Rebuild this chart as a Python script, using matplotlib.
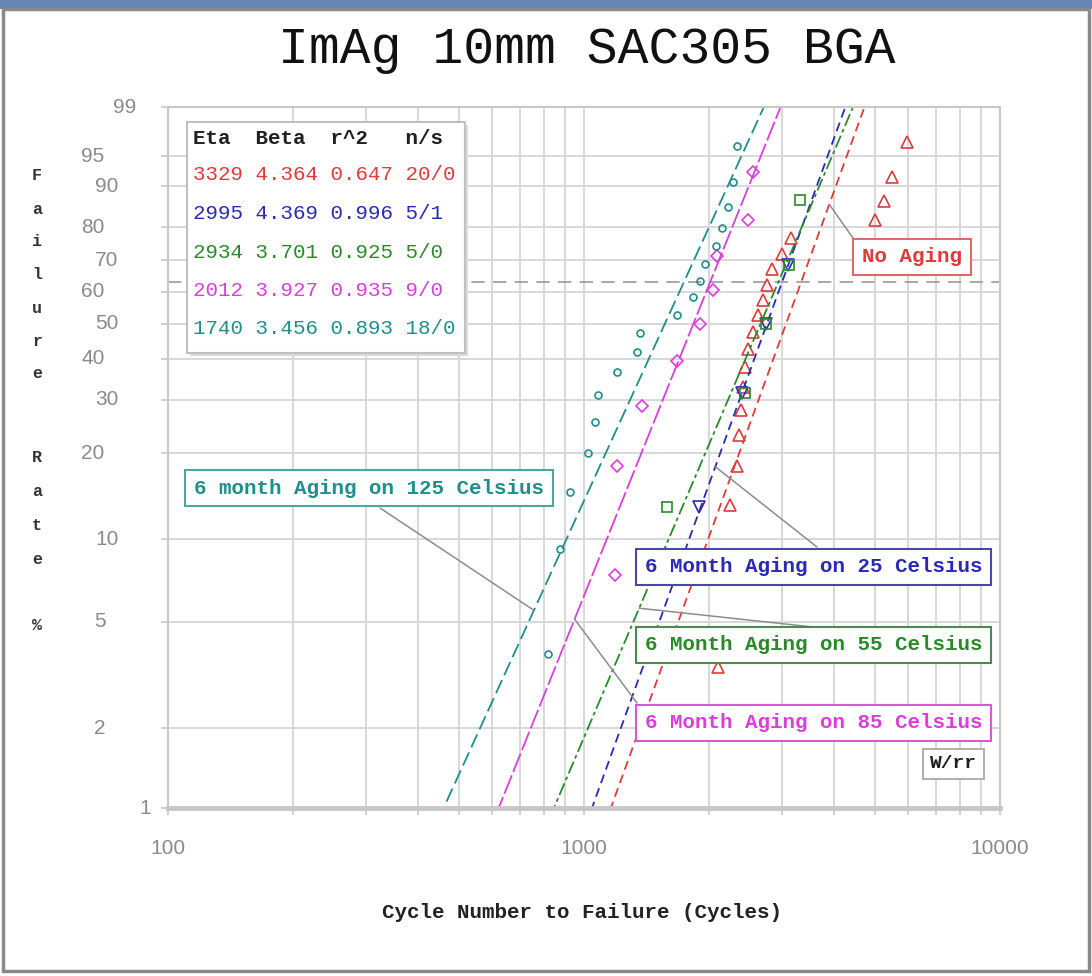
import numpy as np
import matplotlib
matplotlib.use("Agg")
import matplotlib.pyplot as plt
from matplotlib.patches import Rectangle
from matplotlib.ticker import FixedLocator, NullFormatter, NullLocator

plt.rcParams['font.family'] = ['Liberation Mono', 'DejaVu Sans Mono']

W, H = 1092, 976

# Weibull fit results per aging condition
labels = ['No Aging', '6 Month Aging on 25 Celsius', '6 Month Aging on 55 Celsius',
          '6 Month Aging on 85 Celsius', '6 month Aging on 125 Celsius']
eta = [3329, 2995, 2934, 2012, 1740]
beta = [4.364, 4.369, 3.701, 3.927, 3.456]
r2 = [0.647, 0.996, 0.925, 0.935, 0.893]
ns = ['20/0', '5/1', '5/0', '9/0', '18/0']
colors = ['#e03a3a', '#2a2ab4', '#2a8a2a', '#dc3edc', '#1f8f8c']
markers = ['^', 'v', 's', 'D', 'o']
msizes = [9, 8, 7, 6, 5]

# failure cycles and plotted failure percentage (median ranks)
cyc_none = [2100, 2207, 2244, 2332, 2358, 2384, 2411, 2438, 2479, 2549,
            2620, 2693, 2754, 2831, 2992, 3146, 5007, 5263, 5501, 5976]
pct_none = [3.4, 8.3, 13.2, 18.1, 23.0, 27.9, 32.8, 37.7, 42.6, 47.5,
            52.5, 57.4, 62.3, 67.2, 72.1, 77.0, 81.9, 86.8, 91.7, 96.6]
cyc_25 = [1890, 2398, 2738, 3093]
pct_25 = [13.0, 31.5, 50.0, 68.5]
cyc_55 = [1583, 2438, 2738, 3110, 3305]
pct_55 = [13.0, 31.5, 50.0, 68.5, 87.0]
cyc_85 = [1187, 1200, 1379, 1673, 1900, 2042, 2088, 2479, 2549]
pct_85 = [7.4, 18.1, 28.7, 39.4, 50.0, 60.6, 71.3, 81.9, 92.6]
cyc_125 = [819, 876, 925, 1022, 1063, 1081, 1200, 1341, 1363,
           1673, 1828, 1900, 1954, 2076, 2146, 2219, 2281, 2332]
pct_125 = [3.8, 9.2, 14.7, 20.1, 25.5, 31.0, 36.4, 41.8, 47.3,
           52.7, 58.2, 63.6, 69.0, 74.5, 79.9, 85.3, 90.8, 96.2]

cycles = [cyc_none, cyc_25, cyc_55, cyc_85, cyc_125]
pcts = [pct_none, pct_25, pct_55, pct_85, pct_125]

y_ticks = [1, 2, 5, 10, 20, 30, 40, 50, 60, 70, 80, 90, 95, 99]
x_ticks = [100, 1000, 10000]

# where the label leaders touch each fit line (failure %)
leader_pct = [86, 18, 5.6, 5.1, 5.5]


def px(x):
    return x / W


def py(y):
    return 1 - y / H


def weib_fwd(p):
    p = np.clip(np.asarray(p, dtype=float), 1e-6, 100 - 1e-6)
    return np.log(-np.log(1 - p / 100.0))


def weib_inv(w):
    return 100.0 * (1 - np.exp(-np.exp(w)))


def fit_x(e, b, p):
    p = np.asarray(p, dtype=float)
    return e * (-np.log(1 - p / 100.0)) ** (1.0 / b)


fig = plt.figure(figsize=(W / 100, H / 100), dpi=100)
ax = fig.add_axes([px(168), py(808), px(1000) - px(168), (808 - 107) / H])

ax.set_xscale('log')
ax.set_yscale('function', functions=(weib_fwd, weib_inv))
ax.set_xlim(100, 10000)
ax.set_ylim(1, 99)

ax.xaxis.set_major_locator(FixedLocator(x_ticks))
ax.xaxis.set_minor_locator(FixedLocator([m * d for d in (100, 1000) for m in range(2, 10)]))
ax.xaxis.set_major_formatter(NullFormatter())
ax.xaxis.set_minor_formatter(NullFormatter())
ax.yaxis.set_major_locator(FixedLocator(y_ticks))
ax.yaxis.set_minor_locator(NullLocator())
ax.yaxis.set_major_formatter(NullFormatter())

ax.set_axisbelow(True)
ax.grid(True, which='both', color='#d8d8d8', lw=1.4)
ax.tick_params(which='both', length=5, color='#c8c8c8', width=1.2)
for s in ax.spines.values():
    s.set_color('#c8c8c8')
    s.set_linewidth(1.5)
ax.spines['bottom'].set_linewidth(3.5)

# characteristic life line (63.2 %)
ax.axhline(63.2, color='#9a9a9a', lw=1.2, ls=(0, (8, 5)))

dash_styles = [(0, (5, 3)), (0, (5, 3)), (0, (7, 2, 2, 2)), (0, (11, 2)), (0, (8, 3))]
for i in range(len(eta)):
    fl = np.array([0.3, 99.95])
    ax.plot(fit_x(eta[i], beta[i], fl), fl, color=colors[i], lw=1.3, ls=dash_styles[i])
    ax.plot(cycles[i], pcts[i], ls='none', marker=markers[i], ms=msizes[i],
            mfc='none', mec=colors[i], mew=1.2)

# axis tick labels
tick_font = dict(family='Liberation Sans', fontsize=15, color='#8a8a8a')
ytx = [145, 100, 100, 107, 93, 107, 93, 107, 93, 107, 93, 107, 93, 125]
ytrans = ax.get_yaxis_transform()
for v, xp in zip(y_ticks, ytx):
    ax.text((xp - 168) / 832, v, str(v), transform=ytrans, ha='center', va='center', **tick_font)
xtrans = ax.get_xaxis_transform()
for v in x_ticks:
    ax.text(v, (808 - 848) / 701, str(v), transform=xtrans, ha='center', va='center', **tick_font)

fig.text(px(582), py(913), 'Cycle Number to Failure (Cycles)', ha='center', va='center',
         fontsize=15, fontweight='bold', color='#222222')

ylab = [('F', 176), ('a', 209), ('i', 242), ('l', 275), ('u', 308), ('r', 341), ('e', 374),
        ('R', 458), ('a', 492), ('t', 526), ('e', 560), ('%', 626)]
for ch, yy in ylab:
    fig.text(px(37), py(yy), ch, ha='center', va='center', fontsize=12,
             fontweight='bold', color='#333333')

fig.text(px(587), py(50), 'ImAg 10mm SAC305 BGA', ha='center', va='center',
         fontsize=37, color='#111111')

# statistics table
fig.add_artist(Rectangle((px(190), py(356)), (465 - 187) / W, (353 - 122) / H,
                         transform=fig.transFigure, facecolor='#dcdcdc', edgecolor='none', zorder=2))
fig.add_artist(Rectangle((px(187), py(353)), (465 - 187) / W, (353 - 122) / H,
                         transform=fig.transFigure, facecolor='white', edgecolor='#c0c0c0',
                         lw=1.5, zorder=2.1))
fig.text(px(193), py(138), 'Eta  Beta  r^2   n/s', ha='left', va='center',
         fontsize=15, fontweight='bold', color='#202020', zorder=3)
row_y = [175, 213, 253, 290, 328]
for i in range(len(eta)):
    row = f'{eta[i]} {beta[i]:.3f} {r2[i]:.3f} {ns[i]}'
    fig.text(px(193), py(row_y[i]), row, ha='left', va='center', fontsize=15,
             color=colors[i], zorder=3)

# condition labels with leader lines
box_txt = [(862, 257), (645, 567), (645, 645), (645, 723), (194, 488)]
box_anchor = [(853, 238), (817, 547), (813, 627), (637, 703), (380, 508)]
box_edge = ['#e06a6a', '#4848a8', '#4a8a52', '#d858d8', '#48a8a4']
for i in range(len(eta)):
    lx = fit_x(eta[i], beta[i], leader_pct[i])
    ax.annotate('', xy=(lx, leader_pct[i]), xycoords='data',
                xytext=(px(box_anchor[i][0]), py(box_anchor[i][1])), textcoords='figure fraction',
                arrowprops=dict(arrowstyle='-', color='#8c8c8c', lw=1.1, shrinkA=0, shrinkB=0))
    fig.text(px(box_txt[i][0]), py(box_txt[i][1]), labels[i], ha='left', va='center',
             fontsize=15, fontweight='bold', color=colors[i], zorder=4,
             bbox=dict(boxstyle='square,pad=0.42', facecolor='white', edgecolor=box_edge[i], lw=1.5))

fig.text(px(930), py(764), 'W/rr', ha='left', va='center', fontsize=14, fontweight='bold',
         color='#202020', zorder=4,
         bbox=dict(boxstyle='square,pad=0.35', facecolor='white', edgecolor='#a8a8a8', lw=1.3))

# window frame
fig.add_artist(Rectangle((0, py(9)), 1, 9 / H, transform=fig.transFigure,
                         facecolor='#6485b5', edgecolor='none', zorder=5))
fig.add_artist(Rectangle((px(3), py(971)), (1089 - 3) / W, (971 - 9) / H, transform=fig.transFigure,
                         fill=False, edgecolor='#8a8a8a', lw=2.5, zorder=5))

fig.savefig('out.png', dpi=100, facecolor='white')
